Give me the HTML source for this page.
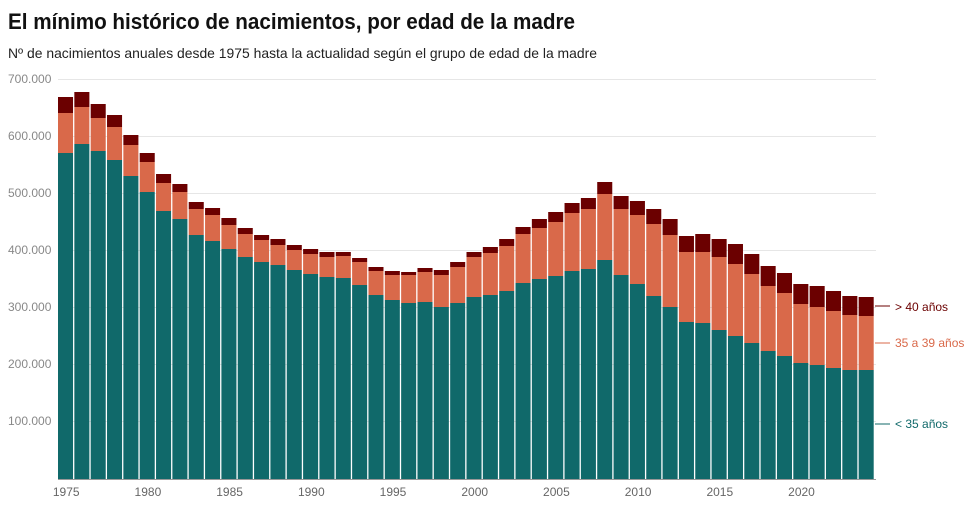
<!DOCTYPE html>
<html><head><meta charset="utf-8"><style>
body{margin:0;background:#fff;width:966px;height:511px;overflow:hidden}
svg{display:block;font-family:"Liberation Sans",sans-serif}
</style></head><body>
<svg id="c" width="966" height="511" xmlns="http://www.w3.org/2000/svg">
<text x="8" y="29" font-size="22" font-weight="bold" fill="#111" textLength="567" lengthAdjust="spacingAndGlyphs">El mínimo histórico de nacimientos, por edad de la madre</text>
<text x="8" y="58" font-size="14" fill="#222" textLength="589" lengthAdjust="spacingAndGlyphs">Nº de nacimientos anuales desde 1975 hasta la actualidad según el grupo de edad de la madre</text>
<g stroke="#e6e6e6" stroke-width="1">
<line x1="58" x2="876" y1="79.5" y2="79.5"/><line x1="58" x2="876" y1="136.5" y2="136.5"/><line x1="58" x2="876" y1="193.5" y2="193.5"/><line x1="58" x2="876" y1="250.5" y2="250.5"/><line x1="58" x2="876" y1="307.5" y2="307.5"/><line x1="58" x2="876" y1="364.5" y2="364.5"/><line x1="58" x2="876" y1="421.5" y2="421.5"/>
</g>
<g font-size="12" fill="#888">
<text x="8" y="83">700.000</text><text x="8" y="140">600.000</text><text x="8" y="197">500.000</text><text x="8" y="254">400.000</text><text x="8" y="311">300.000</text><text x="8" y="368">200.000</text><text x="8" y="425">100.000</text>
</g>
<g id="bars"></g>
<line x1="58" x2="876" y1="479.5" y2="479.5" stroke="#999"/>
<g font-size="12" fill="#666" text-anchor="middle" id="xl"></g>
<g font-size="12">
<line x1="875" x2="890" y1="306" y2="306" stroke="#6b0000"/>
<text x="895" y="311" fill="#6b0000">&gt; 40 años</text>
<line x1="875" x2="890" y1="343" y2="343" stroke="#d9694a"/>
<text x="895" y="347" fill="#d9694a">35 a 39 años</text>
<line x1="875" x2="890" y1="424" y2="424" stroke="#10696a"/>
<text x="895" y="428" fill="#10696a">&lt; 35 años</text>
</g>
</svg>
<script>
var d=[[97,113,153],[92,107,144],[104,118,151],[115,127,160],[135,145,176],[153,162,192],[174,183,211],[184,192,219],[202,209,235],[208,215,241],[218,225,249],[228,234,257],[235,240,262],[239,245,265],[245,250,270],[249,254,274],[252,257,277],[252,256,278],[258,262,285],[267,271,295],[271,275,300],[272,275,303],[268,272,302],[270,275,307],[262,267,303],[252,257,297],[247,253,295],[239,246,291],[227,234,283],[219,228,279],[212,222,276],[203,213,271],[198,209,269],[182,194,260],[196,209,275],[201,215,284],[209,224,296],[219,235,307],[236,252,322],[234,252,323],[239,257,330],[244,264,336],[254,274,343],[266,286,351],[273,293,356],[284,304,363],[286,307,365],[291,311,368],[296,315,370],[297,316,370]];
var s='',x0=58,st=817/50,B=479;
for(var i=0;i<50;i++){var x=x0+i*st,w=st-1.3,v=d[i];
s+='<rect x="'+x.toFixed(2)+'" y="'+v[0]+'" width="'+w.toFixed(2)+'" height="'+(v[1]-v[0])+'" fill="#6b0000"/>';
s+='<rect x="'+x.toFixed(2)+'" y="'+v[1]+'" width="'+w.toFixed(2)+'" height="'+(v[2]-v[1])+'" fill="#d9694a"/>';
s+='<rect x="'+x.toFixed(2)+'" y="'+v[2]+'" width="'+w.toFixed(2)+'" height="'+(B-v[2])+'" fill="#10696a"/>';}
document.getElementById('bars').innerHTML=s;
var t='';for(var y=1975;y<=2020;y+=5){var i=y-1975;t+='<text x="'+(x0+i*st+st/2).toFixed(1)+'" y="496">'+y+'</text>';}
document.getElementById('xl').innerHTML=t;
</script>
</body></html>
